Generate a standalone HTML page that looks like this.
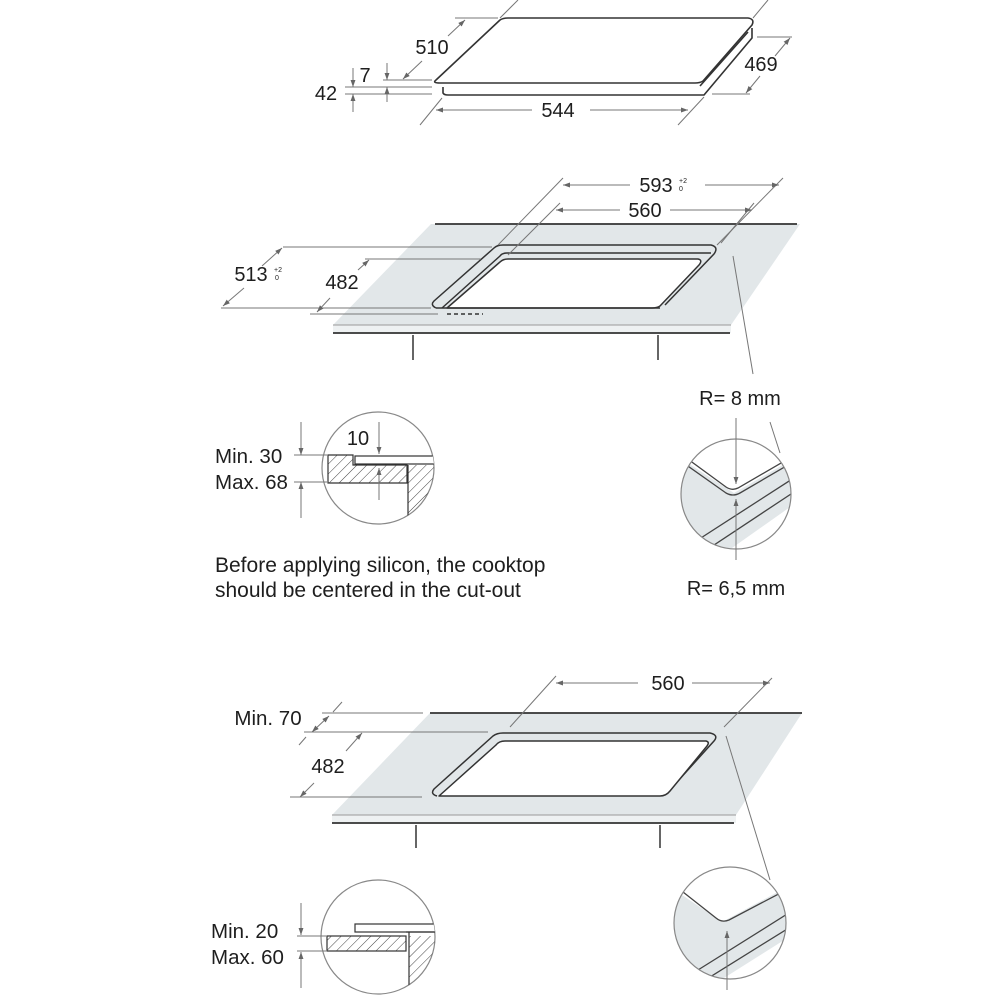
<!DOCTYPE html>
<html><head><meta charset="utf-8"><style>
html,body{margin:0;padding:0;background:#fff;}
svg{display:block;}
text{font-family:"Liberation Sans",Arial,sans-serif;fill:#1e1e1e;}
</style></head><body>
<svg width="1000" height="1000" viewBox="0 0 1000 1000" xmlns="http://www.w3.org/2000/svg">
<defs>
<marker id="a" viewBox="0 0 10 10" refX="10" refY="5" markerWidth="7" markerHeight="7" orient="auto-start-reverse"><path d="M0,1.5 L10,5 L0,8.5 Z" fill="#666"/></marker>
<pattern id="h" width="7" height="7" patternUnits="userSpaceOnUse" patternTransform="rotate(45)"><line x1="0" y1="0" x2="0" y2="7" stroke="#444" stroke-width="1"/></pattern>
<clipPath id="c1"><circle cx="378" cy="468" r="56"/></clipPath>
<clipPath id="c2"><circle cx="736" cy="494" r="55"/></clipPath>
<clipPath id="c3"><circle cx="378" cy="937" r="57"/></clipPath>
<clipPath id="c4"><circle cx="730" cy="923" r="56"/></clipPath>
</defs>

<!-- ===== Section 1 ===== -->
<g fill="none" stroke="#333" stroke-width="1.6" stroke-linejoin="round">
<path d="M436,80 L500,20 Q503,18 508,18 L748,18 Q755,19 752,25 L703,81 Q700,83 695,83 L440,83 Q432,83 436,80 Z" fill="#fff"/>
<path d="M443,87 L443,93 Q444,95 448,95 L704,95 L752,38 L752,28"/>
<path d="M700,86 L748,32"/>
</g>
<g stroke="#777" stroke-width="1" fill="none">
<line x1="500" y1="18" x2="518" y2="0"/><line x1="753" y1="18" x2="768" y2="0"/>
<line x1="455" y1="18" x2="498" y2="18"/>
<line x1="465" y1="20" x2="448" y2="36" marker-start="url(#a)"/><line x1="422" y1="61" x2="403" y2="79" marker-end="url(#a)"/>
<line x1="757" y1="37" x2="792" y2="37"/><line x1="712" y1="94" x2="750" y2="94"/>
<line x1="790" y1="38" x2="775" y2="56" marker-start="url(#a)"/><line x1="760" y1="76" x2="746" y2="93" marker-end="url(#a)"/>
<line x1="420" y1="125" x2="442" y2="98"/><line x1="678" y1="125" x2="704" y2="97"/>
<line x1="436" y1="110" x2="532" y2="110" marker-start="url(#a)"/><line x1="590" y1="110" x2="688" y2="110" marker-end="url(#a)"/>
<line x1="383" y1="80" x2="432" y2="80"/><line x1="345" y1="87" x2="432" y2="87"/><line x1="345" y1="94" x2="432" y2="94"/>
<line x1="387" y1="63" x2="387" y2="80" marker-end="url(#a)"/><line x1="387" y1="102" x2="387" y2="87" marker-end="url(#a)"/>
<line x1="353" y1="68" x2="353" y2="87" marker-end="url(#a)"/><line x1="353" y1="112" x2="353" y2="94" marker-end="url(#a)"/>
</g>
<text x="432" y="54" font-size="20" text-anchor="middle">510</text>
<text x="761" y="71" font-size="20" text-anchor="middle">469</text>
<text x="558" y="117" font-size="20" text-anchor="middle">544</text>
<text x="365" y="82" font-size="20" text-anchor="middle">7</text>
<text x="326" y="100" font-size="20" text-anchor="middle">42</text>

<!-- ===== Section 2 ===== -->
<path d="M431,224 L800,224 L731,325 L333,325 Z" fill="#e2e7e9"/>
<rect x="333" y="325" width="398" height="8" fill="#eef1f2"/>
<g stroke="#333" fill="none">
<line x1="435" y1="224" x2="797" y2="224" stroke-width="1.8"/>
<line x1="333" y1="325" x2="731" y2="325" stroke="#999" stroke-width="1"/>
<line x1="333" y1="333" x2="730" y2="333" stroke-width="1.8"/>
<line x1="413" y1="335" x2="413" y2="360" stroke-width="1.5"/>
<line x1="658" y1="335" x2="658" y2="360" stroke-width="1.5"/>
</g>
<g fill="none" stroke="#333" stroke-width="1.5" stroke-linejoin="round">
<path d="M436,308 Q430,305 434,301 L494,248 Q497,245 503,245 L711,245 Q719,247 714,254 L665,305"/>
<path d="M442,308 L500,256 Q502,253 507,253 L711,253"/>
<path d="M447,308 L500,262 Q503,259 508,259 L698,259 Q703,260 699,265 L660,306 Q657,308 652,308 Z" fill="#fff"/>
<line x1="436" y1="308" x2="660" y2="308"/>
</g>
<line x1="447" y1="314" x2="483" y2="314" stroke="#333" stroke-width="1.5" stroke-dasharray="4,3"/>
<g stroke="#777" stroke-width="1" fill="none">
<line x1="563" y1="178" x2="498" y2="245"/><line x1="783" y1="178" x2="717" y2="245"/>
<line x1="563" y1="185" x2="630" y2="185" marker-start="url(#a)"/><line x1="705" y1="185" x2="779" y2="185" marker-end="url(#a)"/>
<line x1="560" y1="203" x2="508" y2="255"/><line x1="754" y1="203" x2="721" y2="243"/>
<line x1="556" y1="210" x2="620" y2="210" marker-start="url(#a)"/><line x1="670" y1="210" x2="752" y2="210" marker-end="url(#a)"/>
<line x1="283" y1="247" x2="492" y2="247"/><line x1="221" y1="308" x2="431" y2="308"/>
<line x1="282" y1="248" x2="262" y2="266" marker-start="url(#a)"/><line x1="244" y1="288" x2="223" y2="306" marker-end="url(#a)"/>
<line x1="365" y1="259" x2="481" y2="259"/><line x1="310" y1="314" x2="438" y2="314"/>
<line x1="369" y1="260" x2="358" y2="270" marker-start="url(#a)"/><line x1="330" y1="298" x2="317" y2="312" marker-end="url(#a)"/>
<line x1="733" y1="256" x2="753" y2="374"/>
</g>
<text x="656" y="192" font-size="20" text-anchor="middle">593</text>
<text x="679" y="183" font-size="7">+2</text><text x="679" y="191" font-size="7">0</text>
<text x="645" y="217" font-size="20" text-anchor="middle">560</text>
<text x="251" y="281" font-size="20" text-anchor="middle">513</text>
<text x="274" y="272" font-size="7">+2</text><text x="275" y="280" font-size="7">0</text>
<text x="342" y="289" font-size="20" text-anchor="middle">482</text>

<!-- ===== Detail 1 ===== -->
<circle cx="378" cy="468" r="56" fill="#fff" stroke="#888" stroke-width="1.2"/>
<g clip-path="url(#c1)">
<rect x="408" y="465" width="40" height="70" fill="url(#h)"/>
<line x1="408" y1="465" x2="408" y2="530" stroke="#333" stroke-width="1.2"/>
<rect x="355" y="456" width="90" height="8" fill="#fff" stroke="#333" stroke-width="1.2"/>
</g>
<path d="M328,455 L353,455 L353,465 L407,465 L407,483 L328,483 Z" fill="url(#h)" stroke="#333" stroke-width="1.2"/>
<g stroke="#777" stroke-width="1" fill="none">
<line x1="379" y1="422" x2="379" y2="454" marker-end="url(#a)"/><line x1="379" y1="500" x2="379" y2="468" marker-end="url(#a)"/>
<line x1="294" y1="455" x2="327" y2="455"/><line x1="294" y1="482" x2="327" y2="482"/>
<line x1="301" y1="422" x2="301" y2="455" marker-end="url(#a)"/><line x1="301" y1="518" x2="301" y2="482" marker-end="url(#a)"/>
</g>
<text x="358" y="445" font-size="20" text-anchor="middle">10</text>
<text x="215" y="463" font-size="20.5">Min. 30</text>
<text x="215" y="489" font-size="20.5">Max. 68</text>
<text x="215" y="572" font-size="21">Before applying silicon, the cooktop</text>
<text x="215" y="597" font-size="21">should be centered in the cut-out</text>

<!-- ===== Detail 2 ===== -->
<circle cx="736" cy="494" r="55" fill="#fff"/>
<g clip-path="url(#c2)">
<path d="M660,445 L734,493 L800,455 L800,500 L715,560 L660,560 Z" fill="#e2e7e9"/>
<g fill="none" stroke="#444" stroke-width="1.3">
<path d="M670,446 L726,487 Q732,491 738,488 L800,452"/>
<path d="M668,452 L726,493 Q733,497 740,493 L800,458"/>
<line x1="690" y1="545" x2="800" y2="474"/>
<line x1="702" y1="553" x2="800" y2="488"/>
</g>
</g>
<circle cx="736" cy="494" r="55" fill="none" stroke="#888" stroke-width="1.2"/>
<g stroke="#777" stroke-width="1" fill="none">
<line x1="736" y1="418" x2="736" y2="484" marker-end="url(#a)"/>
<line x1="736" y1="560" x2="736" y2="499" marker-end="url(#a)"/>
<line x1="770" y1="422" x2="780" y2="453"/>
</g>
<text x="740" y="405" font-size="20" text-anchor="middle">R= 8 mm</text>
<text x="736" y="595" font-size="20" text-anchor="middle">R= 6,5 mm</text>

<!-- ===== Section 4 ===== -->
<path d="M430,713 L802,713 L736,815 L332,815 Z" fill="#e2e7e9"/>
<rect x="332" y="815" width="404" height="8" fill="#eef1f2"/>
<g stroke="#333" fill="none">
<line x1="430" y1="713" x2="802" y2="713" stroke-width="1.8"/>
<line x1="332" y1="815" x2="736" y2="815" stroke="#999" stroke-width="1"/>
<line x1="332" y1="823" x2="734" y2="823" stroke-width="1.8"/>
<line x1="416" y1="825" x2="416" y2="848" stroke-width="1.5"/>
<line x1="660" y1="825" x2="660" y2="848" stroke-width="1.5"/>
</g>
<g fill="none" stroke="#333" stroke-width="1.5" stroke-linejoin="round">
<path d="M437,796 Q430,794 434,789 L493,736 Q497,733 503,733 L710,733 Q719,735 714,741 L668,792"/>
<path d="M439,796 L496,745 Q499,741 505,741 L706,741 Q710,742 707,746 L670,791 Q666,796 660,796 Z" fill="#fff"/>
</g>
<g stroke="#777" stroke-width="1" fill="none">
<line x1="556" y1="676" x2="510" y2="727"/><line x1="772" y1="678" x2="724" y2="727"/>
<line x1="556" y1="683" x2="638" y2="683" marker-start="url(#a)"/><line x1="692" y1="683" x2="770" y2="683" marker-end="url(#a)"/>
<line x1="322" y1="713" x2="423" y2="713"/><line x1="304" y1="732" x2="488" y2="732"/><line x1="290" y1="797" x2="422" y2="797"/>
<line x1="342" y1="702" x2="333" y2="712"/>
<line x1="329" y1="716" x2="312" y2="732" marker-start="url(#a)" marker-end="url(#a)"/>
<line x1="306" y1="737" x2="299" y2="745"/>
<line x1="362" y1="733" x2="346" y2="751" marker-start="url(#a)"/><line x1="314" y1="783" x2="300" y2="797" marker-end="url(#a)"/>
<line x1="726" y1="736" x2="770" y2="880"/>
</g>
<text x="668" y="690" font-size="20" text-anchor="middle">560</text>
<text x="268" y="725" font-size="20.5" text-anchor="middle">Min. 70</text>
<text x="328" y="773" font-size="20" text-anchor="middle">482</text>

<!-- ===== Detail 3 ===== -->
<circle cx="378" cy="937" r="57" fill="#fff" stroke="#888" stroke-width="1.2"/>
<g clip-path="url(#c3)">
<rect x="409" y="936" width="40" height="70" fill="url(#h)"/>
<line x1="409" y1="932" x2="409" y2="1000" stroke="#333" stroke-width="1.2"/>
<rect x="355" y="924" width="90" height="8" fill="#fff" stroke="#333" stroke-width="1.2"/>
<line x1="406" y1="932" x2="440" y2="932" stroke="#333" stroke-width="1.2"/>
</g>
<rect x="327" y="936" width="79" height="15" fill="url(#h)" stroke="#333" stroke-width="1.2"/>
<g stroke="#777" stroke-width="1" fill="none">
<line x1="297" y1="936" x2="326" y2="936"/><line x1="297" y1="951" x2="326" y2="951"/>
<line x1="301" y1="903" x2="301" y2="935" marker-end="url(#a)"/><line x1="301" y1="988" x2="301" y2="952" marker-end="url(#a)"/>
</g>
<text x="211" y="938" font-size="20.5">Min. 20</text>
<text x="211" y="964" font-size="20.5">Max. 60</text>

<!-- ===== Detail 4 ===== -->
<circle cx="730" cy="923" r="56" fill="#fff"/>
<g clip-path="url(#c4)">
<path d="M660,880 L722,922 L800,880 L800,930 L705,990 L660,990 Z" fill="#e2e7e9"/>
<g fill="none" stroke="#444" stroke-width="1.3">
<path d="M683,892 L716,918 Q722,923 729,920 L790,888"/>
<line x1="690" y1="975" x2="800" y2="906"/>
<line x1="702" y1="982" x2="800" y2="921"/>
</g>
</g>
<circle cx="730" cy="923" r="56" fill="none" stroke="#888" stroke-width="1.2"/>
<g stroke="#777" stroke-width="1" fill="none">
<line x1="727" y1="990" x2="727" y2="931" marker-end="url(#a)"/>
</g>
</svg>
</body></html>
